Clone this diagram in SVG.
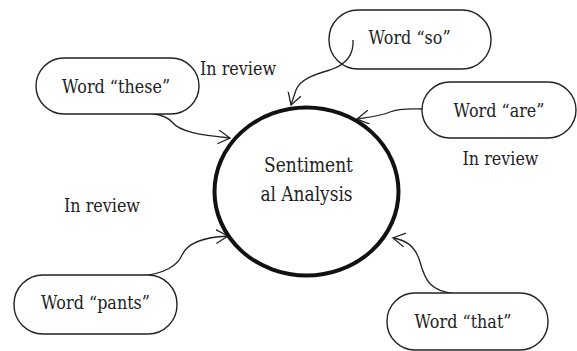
<svg xmlns="http://www.w3.org/2000/svg" width="577" height="351" viewBox="0 0 577 351">
<style>
.box{fill:#fff;stroke:#222;stroke-width:1.4}
.t{font-family:'DejaVu Serif','Liberation Serif',serif;font-size:16px;fill:#222;text-anchor:middle}
.lbl{font-family:'DejaVu Serif','Liberation Serif',serif;font-size:16px;fill:#222}
.c{fill:none;stroke:#222;stroke-width:1.3}
</style>
<defs>
<marker id="ah" markerUnits="userSpaceOnUse" markerWidth="14" markerHeight="16" refX="12" refY="7" orient="auto" viewBox="0 0 14 16">
<path d="M0,0 L12,7 L0,14" fill="none" stroke="#222" stroke-width="1.3"/>
</marker>
</defs>
<rect width="577" height="351" fill="#fff"/>
<g id="connectors">
<path class="c" d="M120,112 C150,112 165,114 172,122 C180,132 200,135 230,138" marker-end="url(#ah)"/>
<path class="c" d="M353,40 C354,55 345,65 330,70 C312,75 300,80 296,90 L291,105" marker-end="url(#ah)"/>
<path class="c" d="M423,109 C410,109 400,108 390,112 C380,116 370,117 357,119" marker-end="url(#ah)"/>
<path class="c" d="M140,276 C165,274 178,265 182,255 C188,242 205,237 228,236" marker-end="url(#ah)"/>
<path class="c" d="M457,294 C430,292 425,280 420,262 C415,245 405,240 393,238" marker-end="url(#ah)"/>
</g>
<g id="center">
<ellipse cx="306.5" cy="191.5" rx="92" ry="84" fill="none" stroke="#111" stroke-width="4"/>
<text class="t" style="font-size:17px" transform="translate(308.5,172) scale(1,1.18)">Sentiment</text>
<text class="t" style="font-size:17px" transform="translate(306.5,201) scale(1,1.18)">al Analysis</text>
</g>
<g id="node-these">
<rect class="box" x="36" y="58" width="163" height="56" rx="28"/>
<text class="t" transform="translate(116,93) scale(1,1.18)">Word “these”</text>
</g>
<g id="node-so">
<rect class="box" x="329" y="10" width="162" height="59" rx="29" style="fill:none"/>
<text class="t" transform="translate(409.5,44) scale(1,1.18)">Word “so”</text>
</g>
<g id="node-are">
<rect class="box" x="422" y="82" width="154" height="56" rx="28"/>
<text class="t" transform="translate(499,117) scale(1,1.18)">Word “are”</text>
</g>
<g id="node-pants">
<rect class="box" x="14" y="275" width="163" height="59" rx="29"/>
<text class="t" transform="translate(95.5,309) scale(1,1.18)">Word “pants”</text>
</g>
<g id="node-that">
<rect class="box" x="387" y="293" width="161" height="57" rx="28"/>
<text class="t" transform="translate(463,328) scale(1,1.18)">Word “that”</text>
</g>
<g id="labels">
<text class="lbl" transform="translate(200,75) scale(1,1.18)">In review</text>
<text class="t" transform="translate(500.5,165) scale(1,1.18)">In review</text>
<text class="t" transform="translate(102,212) scale(1,1.18)">In review</text>
</g>
</svg>
